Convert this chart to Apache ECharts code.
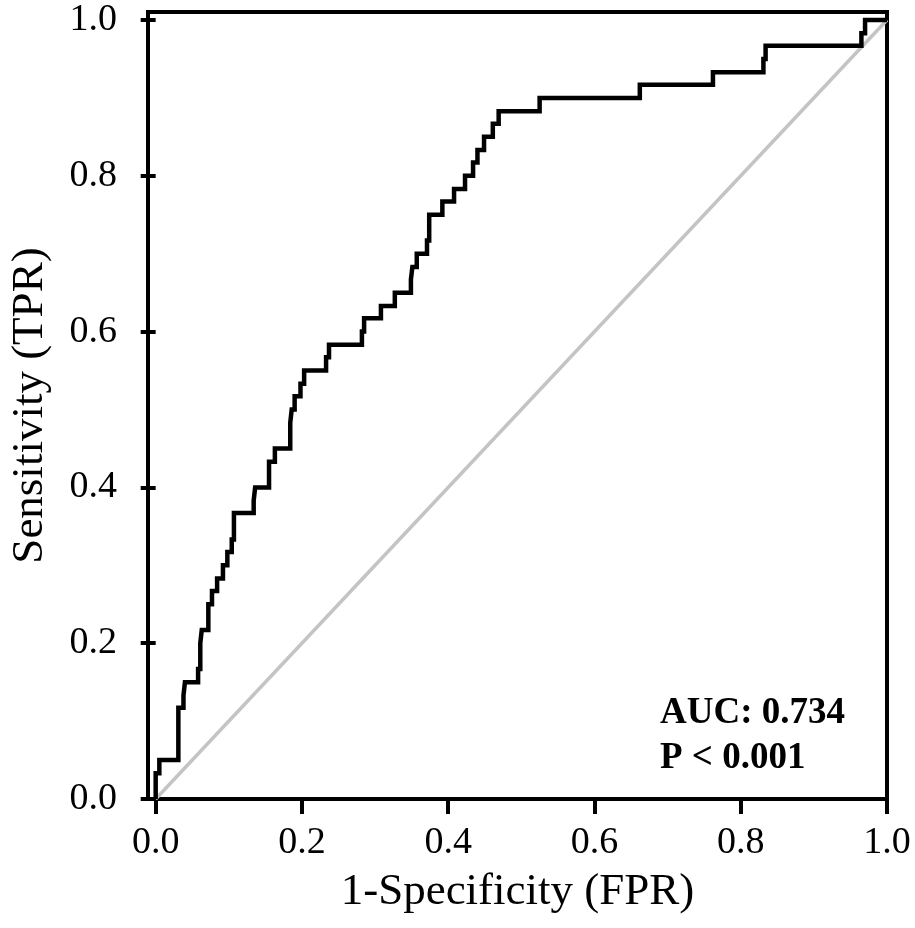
<!DOCTYPE html>
<html><head><meta charset="utf-8">
<script src="https://cdn.jsdelivr.net/npm/echarts@6/dist/echarts.min.js"></script>
<style>html,body{margin:0;padding:0;background:#fff}#c{width:915px;height:928px}</style>
</head><body><div id="c"></div>
<script>
// ROC curve vertices (1-Specificity, Sensitivity)
const fprValues = [0,0,0.005,0.005,0.031,0.031,0.038,0.038,0.040,0.040,0.058,0.058,0.061,0.061,0.063,0.063,0.072,0.072,0.077,0.077,0.084,0.084,0.092,0.092,0.098,0.098,0.104,0.104,0.107,0.107,0.134,0.134,0.136,0.136,0.155,0.155,0.163,0.163,0.184,0.184,0.186,0.186,0.190,0.190,0.198,0.198,0.203,0.203,0.233,0.233,0.237,0.237,0.282,0.282,0.285,0.285,0.308,0.308,0.327,0.327,0.349,0.349,0.351,0.351,0.357,0.357,0.371,0.371,0.374,0.374,0.392,0.392,0.408,0.408,0.423,0.423,0.434,0.434,0.440,0.440,0.449,0.449,0.461,0.461,0.469,0.469,0.525,0.525,0.662,0.662,0.762,0.762,0.831,0.831,0.834,0.834,0.965,0.965,0.970,0.970,1];
const tprValues = [0,0.033,0.033,0.05,0.05,0.117,0.117,0.133,0.133,0.15,0.15,0.167,0.167,0.2,0.2,0.217,0.217,0.25,0.25,0.267,0.267,0.283,0.283,0.3,0.3,0.317,0.317,0.333,0.333,0.367,0.367,0.383,0.383,0.4,0.4,0.433,0.433,0.45,0.45,0.483,0.483,0.5,0.5,0.517,0.517,0.533,0.533,0.55,0.55,0.567,0.567,0.583,0.583,0.6,0.6,0.617,0.617,0.633,0.633,0.65,0.65,0.667,0.667,0.683,0.683,0.7,0.7,0.717,0.717,0.75,0.75,0.767,0.767,0.783,0.783,0.8,0.8,0.817,0.817,0.833,0.833,0.85,0.85,0.867,0.867,0.883,0.883,0.9,0.9,0.917,0.917,0.933,0.933,0.95,0.95,0.967,0.967,0.983,0.983,1,1];
const diagonalFpr = [0, 1];
const diagonalTpr = [0, 1];
const tickValues = [0, 0.2, 0.4, 0.6, 0.8, 1.0];
const xAxisTitle = '1-Specificity (FPR)';
const yAxisTitle = 'Sensitivity (TPR)';
const annotationLines = ['AUC: 0.734', 'P < 0.001'];

const rocData = fprValues.map((x, i) => [x, tprValues[i]]);
const diagData = diagonalFpr.map((x, i) => [x, diagonalTpr[i]]);

const FONT = 'Liberation Serif';
const chart = echarts.init(document.getElementById('c'), null, {renderer: 'canvas'});
chart.setOption({
  animation: false,
  backgroundColor: '#fff',
  grid: {left: 148, right: 28, top: 12, bottom: 129, show: true, borderColor: '#000', borderWidth: 4, containLabel: false},
  xAxis: {
    type: 'value', min: -0.0105, max: 1,
    axisLine: {show: false},
    splitLine: {show: false},
    axisTick: {show: true, customValues: tickValues, length: 15, inside: false, lineStyle: {color: '#000', width: 4}},
    axisLabel: {customValues: tickValues, formatter: v => v.toFixed(1), color: '#000', fontFamily: FONT, fontSize: 38, margin: 25},
    name: xAxisTitle, nameLocation: 'middle', nameGap: 71,
    nameTextStyle: {color: '#000', fontFamily: FONT, fontSize: 45}
  },
  yAxis: {
    type: 'value', min: 0, max: 1.0103,
    axisLine: {show: false},
    splitLine: {show: false},
    axisTick: {show: true, customValues: tickValues, length: 15, inside: false, lineStyle: {color: '#000', width: 4}},
    axisLabel: {customValues: tickValues, formatter: v => v.toFixed(1), color: '#000', fontFamily: FONT, fontSize: 38, margin: 31},
    name: yAxisTitle, nameLocation: 'middle', nameGap: 95, nameRotate: 90,
    nameTextStyle: {color: '#000', fontFamily: FONT, fontSize: 45}
  },
  graphic: [{
    type: 'text', left: 660, top: 691,
    style: {text: annotationLines.join('\n'), fill: '#000', font: 'bold 37px "Liberation Serif"', lineHeight: 45}
  }],
  series: [
    {type: 'line', data: diagData, showSymbol: false, symbol: 'none', lineStyle: {color: '#c4c4c4', width: 3.5}, z: 1},
    {type: 'line', data: rocData, showSymbol: false, symbol: 'none', lineStyle: {color: '#000', width: 4.5, join: 'miter'}, z: 2}
  ]
});
</script></body></html>
